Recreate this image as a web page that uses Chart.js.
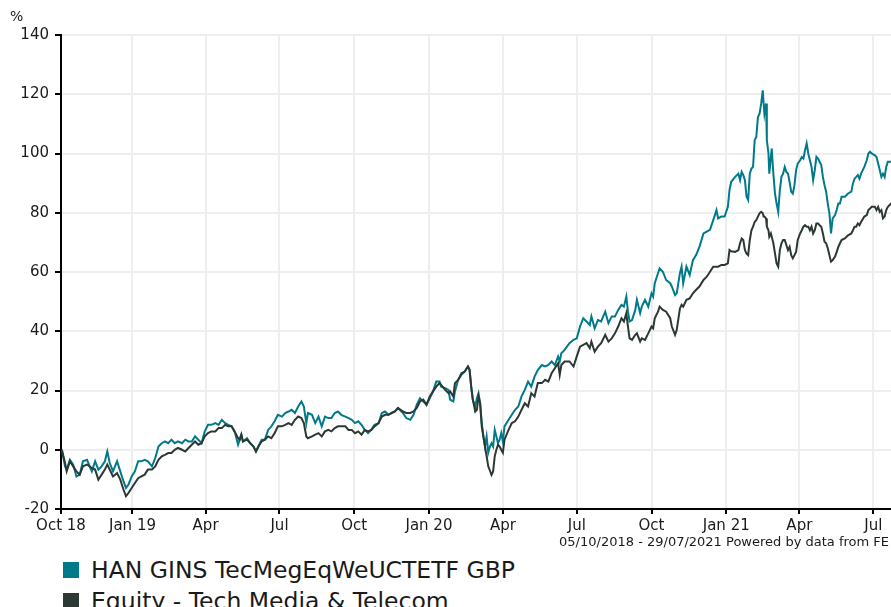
<!DOCTYPE html>
<html>
<head>
<meta charset="utf-8">
<script src="https://cdn.jsdelivr.net/npm/chart.js@4/dist/chart.umd.min.js"></script>
<style>
  html, body { margin: 0; padding: 0; background: #fff; overflow: hidden; width: 891px; height: 607px; }
  body { font-family: "DejaVu Sans", Verdana, sans-serif; color: #1a1a1a; position: relative; }
  #wrap { position: absolute; left: 0; top: 0; width: 896px; height: 545px; }
  #unit { position: absolute; left: 10px; top: 8px; font-size: 14px; }
  #note { position: absolute; left: 0; top: 534px; width: 889px; text-align: right; font-size: 13px; }
  .leg { position: absolute; left: 63px; font-size: 23.5px; white-space: nowrap; line-height: normal; }
  .leg span { display: inline-block; width: 16px; height: 16px; margin-right: 12px; vertical-align: baseline; }
</style>
</head>
<body>
<div id="wrap"><canvas id="chart" width="896" height="545"></canvas></div>
<div id="unit">%</div>
<div id="note">05/10/2018 - 29/07/2021 Powered by data from FE</div>
<div class="leg" style="top:556px"><span style="background:#007a8a"></span>HAN GINS TecMegEqWeUCTETF GBP</div>
<div class="leg" style="top:587px"><span style="background:#2c3833"></span>Equity - Tech Media &amp; Telecom</div>
<script>
// days since 05/10/2018
const days = [
  1, 5, 7, 11, 15, 19, 23, 27, 32, 38,
  42, 46, 50, 54, 57, 60, 64, 69, 73, 77,
  80, 83, 87, 91, 95, 99, 103, 107, 112, 116,
  120, 124, 128, 132, 136, 140, 144, 149, 153, 157,
  161, 165, 169, 173, 177, 181, 185, 190, 194, 198,
  202, 206, 210, 214, 218, 220, 222, 224, 229, 233,
  237, 240, 243, 247, 251, 255, 259, 263, 267, 272,
  276, 280, 284, 288, 292, 296, 299, 302, 304, 309,
  313, 317, 321, 325, 329, 333, 337, 341, 345, 350,
  354, 358, 362, 366, 370, 374, 378, 382, 386, 391,
  395, 399, 403, 407, 411, 415, 421, 425, 430, 434,
  438, 442, 446, 450, 454, 458, 462, 466, 468, 473,
  477, 479, 483, 485, 489, 493, 497, 501, 503, 505,
  507, 510, 512, 514, 516, 518, 520, 522, 524, 526,
  528, 530, 532, 534, 536, 538, 540, 542, 544, 546,
  551, 555, 559, 563, 567, 571, 575, 579, 583, 587,
  592, 596, 600, 604, 608, 612, 614, 616, 620, 626,
  631, 635, 639, 643, 647, 651, 653, 657, 661, 665,
  670, 674, 678, 682, 686, 690, 693, 696, 698, 700,
  703, 707, 709, 713, 715, 719, 723, 727, 729, 731,
  735, 737, 741, 745, 750, 752, 756, 758, 762, 764,
  766, 770, 774, 778, 782, 786, 791, 795, 799, 803,
  807, 809, 813, 817, 821, 823, 825, 830, 834, 836,
  838, 840, 842, 844, 846, 848, 850, 852, 854, 856,
  858, 860, 862, 864, 865, 866, 868, 869, 871, 872,
  874, 875, 877, 879, 881, 883, 885, 887, 889, 891,
  893, 895, 897, 899, 901, 903, 905, 907, 910, 912,
  914, 916, 918, 920, 922, 924, 926, 928, 930, 932,
  934, 936, 938, 940, 942, 944, 946, 948, 950, 953,
  955, 957, 959, 961, 965, 969, 973, 975, 977, 979,
  981, 983, 985, 989, 992, 994, 996, 998, 1002, 1004,
  1006, 1008, 1010, 1012, 1014, 1016, 1018, 1022, 1028
];

const fundValues = [
  0, -5.6, -6.7, -3.4, -5, -9, -8.4, -3.9, -3.4, -7.3,
  -3.9, -6.7, -5.6, -3.9, -0.6, -4.5, -7.3, -3.9, -7.3, -10.7,
  -12.9, -11.8, -9, -7.3, -3.9, -3.9, -3.4, -3.9, -5.6, -2.8,
  1.1, 2.2, 2.8, 2.2, 3.4, 2.2, 2.8, 2.2, 3.4, 2.8,
  2.8, 4.5, 3.4, 2.2, 6.2, 8.4, 8.4, 9, 8.4, 10.1,
  9, 8.4, 7.9, 6, 1.7, 3.4, 5.1, 2.8, 3.9, 2.2,
  1.1, -0.6, 1.1, 3.4, 3.4, 6.7, 7.9, 9.6, 11.8, 11.2,
  12.4, 12.9, 13.5, 12.4, 14.6, 16.3, 14.6, 9, 12.4, 11.8,
  9, 11.2, 7.9, 11.2, 10.7, 10.7, 12.4, 12.9, 11.8, 11.2,
  10.7, 10.1, 9, 9.6, 8.4, 6.7, 5.6, 6.7, 8.4, 9,
  12.4, 12.9, 11.8, 12.4, 12.9, 14.1, 12.4, 10.7, 10.1, 11.8,
  15.2, 17.4, 16.3, 15.2, 17.4, 19.7, 23, 23, 21.3, 20.8,
  20.2, 16.9, 16.3, 19.7, 23.6, 25.3, 26.4, 28.1, 27, 21.3,
  16.9, 14.6, 17.4, 19.1, 15.7, 9, 4.5, 1.1, 4.5, -1,
  1.1, 2.2, 1.1, 6.7, 4.5, 2.2, 3.4, 5.6, 2.8, 7.9,
  10.1, 11.8, 13.5, 14.6, 18, 20.2, 23, 21.3, 24.7, 26.9,
  28.6, 28.1, 28.6, 29.8, 28.6, 31.5, 29.8, 32.6, 33.7, 36,
  37.1, 37.6, 41.6, 44.4, 43.3, 42.1, 45, 41, 43.8, 43.3,
  46.6, 42.7, 45, 45, 47.2, 48.9, 48.3, 51.7, 46.6, 43.3,
  43.8, 47.2, 50.6, 46.1, 48.3, 50.6, 48.3, 52.8, 51.7, 56.2,
  59.6, 61.2, 60.1, 57.3, 56.2, 55.1, 52.2, 52.8, 59.6, 61.8,
  56.2, 61.8, 59, 64, 65.8, 68.5, 73, 73.6, 74.2, 77.5,
  80.9, 78.1, 78.7, 78.7, 82, 87.6, 90.4, 92.1, 93.2, 91,
  93.8, 92.7, 91, 85.4, 84.3, 93.2, 94.9, 95.5, 104.5, 105.6,
  112.3, 113.4, 116.9, 121.3, 116.9, 113.4, 116.9, 104.5, 100, 93.2,
  98.9, 101.7, 93.2, 86.5, 83.1, 80.3, 87.6, 92.1, 93.2, 95.5,
  93.8, 93.2, 90.4, 87.1, 86.5, 89.3, 94.4, 96.6, 97.7, 98.8,
  98.3, 101.1, 103.4, 100, 97.7, 95.5, 91, 94.4, 98.9, 98.3,
  97.2, 96.1, 92.1, 89.3, 87.1, 83.1, 79.8, 73, 78.1, 79.2,
  81, 83.1, 83.1, 85.4, 85.4, 86.5, 87.1, 89.9, 91.5, 92.1,
  92.7, 91.5, 93.2, 95.5, 97.7, 100, 100.6, 100, 99.4, 98.8,
  96.6, 94.4, 92.1, 93.2, 92.1, 95.5, 97.2, 97.2, 97
];

const sectorValues = [
  0, -4.5, -7.3, -3.9, -5.6, -7.3, -8.4, -5.6, -5, -6.2,
  -6.7, -10.1, -8.4, -6.7, -5, -6.7, -9, -7.9, -10.1, -13.5,
  -15.7, -14.6, -12.9, -11.2, -9.6, -9, -8.4, -6.7, -6.7, -5.6,
  -3.4, -2.2, -1.7, -1.1, -1.1, 0, 0.6, 0, -0.6, 0.6,
  1.7, 2.8, 1.7, 2.2, 4.5, 5.6, 6.2, 6.2, 7.3, 7.3,
  8.4, 7.9, 7.9, 6, 3.9, 3.4, 5.1, 2.8, 3.4, 2.2,
  1.1, -0.6, 1.1, 2.8, 3.4, 4.5, 3.9, 5.6, 7.9, 7.9,
  8.4, 9, 8.4, 10.1, 11.2, 10.7, 9, 4.5, 3.9, 4.5,
  5.1, 5.6, 4.5, 6.2, 6.7, 6.2, 7.3, 7.9, 7.9, 7.9,
  6.7, 6.7, 5.6, 6.2, 5.1, 6.7, 6.2, 6.7, 7.9, 9,
  11.2, 11.8, 11.8, 12.4, 12.9, 14.1, 12.9, 12.4, 12.4, 12.9,
  14.1, 16.3, 16.9, 15.2, 18, 19.7, 21.3, 22.5, 21.9, 20.2,
  19.1, 19.7, 18, 22.5, 23.6, 25.8, 26.4, 28.1, 27, 21.3,
  16.9, 12.9, 13.5, 18, 15.7, 7.9, 4.5, 1.1, -2.2, -5.6,
  -7, -8.5, -7.3, -2.2, 0, 1.7, 1.1, 0, -1, 3.4,
  6.7, 9, 9.6, 11.2, 13.5, 15.7, 14.6, 19.1, 18, 22.5,
  22.5, 23.6, 23, 25.8, 27.5, 29.2, 25.3, 28.6, 29.8, 29.8,
  28.1, 31.5, 34.8, 35.4, 36, 34.3, 36.5, 33.1, 34.8, 36,
  38.8, 36.5, 37.6, 39.3, 41.6, 44.4, 43.3, 46.1, 41.6, 37.6,
  37.1, 38.8, 39.3, 36.5, 37.6, 37.1, 39.3, 41.6, 41, 44.4,
  46.6, 48.3, 47.2, 46.6, 44.4, 41.6, 38.8, 40.4, 47.7, 48.9,
  48.3, 50.6, 51.1, 52.8, 54, 55.1, 57.3, 58.4, 60.1, 61.8,
  61.8, 61.8, 62.4, 62.4, 62.9, 67.4, 67, 66.8, 67.4, 69.7,
  71.3, 70.8, 67.4, 66.2, 65.7, 70.8, 74.1, 75.3, 76.9, 77.5,
  78.7, 79.8, 80.3, 79.8, 78.7, 78.7, 78.1, 75.3, 74.1, 71.9,
  73, 71.9, 69.7, 66.3, 62.9, 61.8, 67.4, 69.7, 70.8, 70.8,
  69.1, 67.4, 68.5, 65.7, 64.6, 65.7, 66.8, 70.8, 73, 74.1,
  75.3, 75.8, 75.3, 75.3, 74.1, 75.3, 73, 74.1, 76.4, 76.4,
  75.8, 75.3, 73, 70.2, 69.7, 68, 65.7, 63.5, 64, 65.2,
  66.8, 68.5, 69.7, 70.8, 71.3, 72.4, 73, 74.1, 75.3, 75.3,
  76.4, 75.8, 76.9, 78.7, 79.2, 80.9, 81.4, 82, 82, 80.9,
  82, 80.3, 80.9, 78.1, 78.7, 80.9, 82, 83.1, 82
];

const tickDays = [0, 88, 178, 269, 361, 453, 544, 635, 727, 819, 909, 1000];
const tickLabels = ['Oct 18', 'Jan 19', 'Apr', 'Jul', 'Oct', 'Jan 20', 'Apr', 'Jul', 'Oct', 'Jan 21', 'Apr', 'Jul'];
const lastDay = 1028;

const FONT = '"DejaVu Sans", Verdana, sans-serif';
const toPoints = vals => days.map((d, i) => ({ x: d, y: vals[i] }));

new Chart(document.getElementById('chart'), {
  type: 'line',
  data: {
    datasets: [
      {
        label: 'Equity - Tech Media & Telecom',
        data: toPoints(sectorValues),
        borderColor: '#2c3833',
        borderWidth: 2,
        pointRadius: 0,
        tension: 0,
        order: 0,
      },
      {
        label: 'HAN GINS TecMegEqWeUCTETF GBP',
        data: toPoints(fundValues),
        borderColor: '#007a8a',
        borderWidth: 2,
        pointRadius: 0,
        tension: 0,
        order: 1,
      },
    ],
  },
  options: {
    responsive: false,
    animation: false,
    layout: { padding: { top: 35, left: 0, right: 0, bottom: 0 } },
    plugins: { legend: { display: false }, tooltip: { enabled: false } },
    scales: {
      x: {
        type: 'linear',
        min: 0,
        max: lastDay,
        afterBuildTicks: s => { s.ticks = tickDays.map(v => ({ value: v })); },
        afterFit: s => { s.height = 36; },
        border: { color: '#000', width: 2 },
        grid: {
          color: ctx => (ctx.tick && ctx.tick.value === 0 ? 'rgba(0,0,0,0)' : '#eeeeee'),
          lineWidth: 2,
          tickColor: '#000',
          tickLength: 5,
          tickWidth: 2,
        },
        ticks: {
          autoSkip: false,
          maxRotation: 0,
          padding: 3,
          color: '#1a1a1a',
          font: { family: FONT, size: 15 },
          callback: v => tickLabels[tickDays.indexOf(v)] ?? '',
        },
      },
      y: {
        min: -20,
        max: 140,
        afterFit: s => { s.width = 61; },
        border: { color: '#000', width: 2 },
        grid: {
          color: '#eeeeee',
          lineWidth: 2,
          tickColor: '#000',
          tickLength: 6,
          tickWidth: 2,
        },
        ticks: {
          stepSize: 20,
          padding: 6,
          color: '#1a1a1a',
          font: { family: FONT, size: 15 },
        },
      },
    },
  },
});
</script>
</body>
</html>
